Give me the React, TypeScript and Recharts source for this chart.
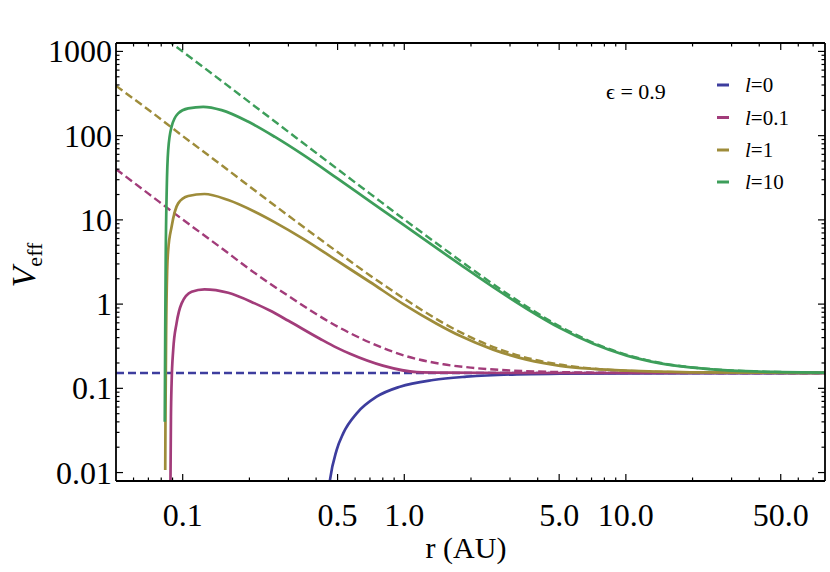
import React from 'react';
import { LineChart, Line, XAxis, YAxis } from 'recharts';

const FONT = '"Liberation Serif", "Times New Roman", serif';

const seriesLabels = ['0', '0.1', '1', '10'];
const seriesColors = ['#3d3d9e', '#a23c7a', '#9e8c3a', '#3d9e5a'];
const epsilonLabel = 'ϵ = 0.9';

// Solid curves V_eff(r): [r (AU), V]
const solidL0: number[][] = [
  [0.455, 0.006], [0.462, 0.0082], [0.495, 0.0185], [0.53, 0.0292], [0.61, 0.0505],
  [0.75, 0.0795], [0.956, 0.1045], [1.35, 0.1256], [1.91, 0.1374], [3.22, 0.1467],
  [5.04, 0.149], [10, 0.1505], [30, 0.1515], [79.2, 0.152],
];
const solidL01: number[][] = [
  [0.088, 0.006], [0.0885, 0.046], [0.0891, 0.115], [0.0906, 0.285], [0.0938, 0.59],
  [0.0989, 1.02], [0.1097, 1.4], [0.1254, 1.5], [0.1605, 1.365], [0.2115, 1.02],
  [0.2474, 0.839], [0.3, 0.634], [0.416, 0.388], [0.495, 0.304], [0.569, 0.257],
  [0.8, 0.186], [1.14, 0.156], [1.6, 0.1535], [3, 0.152], [79.2, 0.152],
];
const solidL1: number[][] = [
  [0.0834, 0.0107], [0.0836, 0.042], [0.0842, 0.49], [0.0851, 2.54], [0.086, 4.36],
  [0.0891, 8.3], [0.0954, 15.7], [0.1059, 19.2], [0.1254, 20.3], [0.1605, 17.2],
  [0.2115, 12.5], [0.2608, 9.35], [0.35, 5.95], [0.495, 3.3], [0.7, 1.83],
  [0.99, 1.0], [1.4, 0.585], [1.784, 0.42], [2.52, 0.288], [3.57, 0.219],
  [5.05, 0.185], [7.13, 0.17], [10.1, 0.162], [19.5, 0.155], [40, 0.1532], [79.2, 0.1524],
];
const solidL10: number[][] = [
  [0.083, 0.04], [0.0834, 0.49], [0.0838, 3.3], [0.0847, 22.6], [0.086, 67.5],
  [0.0891, 128], [0.0954, 184], [0.1059, 211], [0.1238, 220], [0.1498, 201],
  [0.197, 147], [0.2608, 96.5], [0.35, 59], [0.495, 31.5], [0.7, 16.6],
  [0.99, 8.77], [1.4, 4.61], [1.784, 2.96], [2.52, 1.59], [3.57, 0.881],
  [5.05, 0.519], [7.13, 0.338], [10.1, 0.2445], [14.3, 0.198], [19.5, 0.177],
  [30, 0.1623], [50, 0.1559], [79.2, 0.1536],
];

// Dashed curves
const dashedL0: number[][] = [[0.05, 0.152], [1, 0.152], [79.2, 0.152]];
const dashedL01: number[][] = [
  [0.05, 40], [0.07, 20.5], [0.1, 10.1], [0.15, 4.6], [0.2, 2.6], [0.3, 1.25],
  [0.5, 0.54], [0.7, 0.35], [1, 0.245], [1.5, 0.193], [2, 0.176], [3, 0.163],
  [5, 0.156], [10, 0.153], [79.2, 0.152],
];
const dashedL1: number[][] = [
  [0.05, 390], [0.07, 203], [0.1, 99], [0.15, 44.5], [0.2, 25], [0.3, 11.2],
  [0.5, 4.15], [0.7, 2.19], [1, 1.16], [1.5, 0.596], [2, 0.402], [3, 0.263],
  [5, 0.192], [7, 0.172], [10, 0.162], [20, 0.1545], [79.2, 0.152],
];
const dashedL10: number[][] = [
  [0.085, 1380], [0.1, 995], [0.15, 445], [0.2, 250], [0.3, 111], [0.5, 40],
  [0.7, 20.5], [1, 10.1], [1.5, 4.6], [2, 2.65], [3, 1.26], [5, 0.55],
  [7, 0.355], [10, 0.252], [15, 0.196], [20, 0.177], [30, 0.163], [50, 0.156],
  [79.2, 0.1536],
];

const xMajorTicks = [0.1, 0.5, 1, 5, 10, 50];
const xTickLabels = ['0.1', '0.5', '1.0', '5.0', '10.0', '50.0'];
const xMinorTicks = [0.06, 0.07, 0.08, 0.09, 0.2, 0.3, 0.4, 0.6, 0.7, 0.8, 0.9, 2, 3, 4, 6, 7, 8, 9, 20, 30, 40, 60, 70];
const yMajorTicks = [0.01, 0.1, 1, 10, 100, 1000];
const yTickLabels = ['0.01', '0.1', '1', '10', '100', '1000'];
const yMinorTicks = [
  0.02, 0.03, 0.04, 0.05, 0.06, 0.07, 0.08, 0.09,
  0.2, 0.3, 0.4, 0.5, 0.6, 0.7, 0.8, 0.9,
  2, 3, 4, 5, 6, 7, 8, 9,
  20, 30, 40, 50, 60, 70, 80, 90,
  200, 300, 400, 500, 600, 700, 800, 900,
];

const X_DOMAIN: [number, number] = [0.05, 79.2];
const Y_DOMAIN: [number, number] = [0.00794, 1259];

const toPts = (arr: number[][]) => arr.map(([r, v]) => ({ r, v }));
const solids = [solidL0, solidL01, solidL1, solidL10].map(toPts);
const dashes = [dashedL0, dashedL01, dashedL1, dashedL10].map(toPts);

const xTicks = [...xMajorTicks, ...xMinorTicks].sort((a, b) => a - b);
const yTicks = [...yMajorTicks, ...yMinorTicks].sort((a, b) => a - b);

const GAP = 10;
const axisStyle = { stroke: '#000', strokeWidth: 1.8 };
const TICK_FONT = 32;

function AxisTick(props: any) {
  const { x, y, payload, side, majors, labels } = props;
  const v = Number(payload.value);
  const idx = majors.findIndex((m: number) => Math.abs(m - v) <= m * 1e-6);
  const major = idx >= 0;
  const len = major ? 7 : 3.5;
  const sw = 1.2;
  if (side === 'bottom') {
    const y0 = y - GAP;
    return (
      <g>
        <line x1={x} x2={x} y1={y0} y2={y0 - len} stroke="#000" strokeWidth={sw} />
        {major && labels ? (
          <text x={x} y={y0 + 45} textAnchor="middle" fontFamily={FONT} fontSize={TICK_FONT} fill="#000">
            {labels[idx]}
          </text>
        ) : null}
      </g>
    );
  }
  if (side === 'top') {
    const y0 = y + GAP;
    return <line x1={x} x2={x} y1={y0} y2={y0 + len} stroke="#000" strokeWidth={sw} />;
  }
  if (side === 'left') {
    const x0 = x + GAP;
    return (
      <g>
        <line x1={x0} x2={x0 + len} y1={y} y2={y} stroke="#000" strokeWidth={sw} />
        {major && labels ? (
          <text x={x0 - 4} y={y + 11} textAnchor="end" fontFamily={FONT} fontSize={TICK_FONT} fill="#000">
            {labels[idx]}
          </text>
        ) : null}
      </g>
    );
  }
  const x0 = x - GAP;
  return <line x1={x0} x2={x0 - len} y1={y} y2={y} stroke="#000" strokeWidth={sw} />;
}

export default function App() {
  const legendRowY = [85, 117.5, 150, 182];
  return (
    <div style={{ position: 'absolute', left: 0, top: 0, width: 830, height: 572, background: '#fff' }}>
      <LineChart width={830} height={572} margin={{ top: 42, right: 4, bottom: 31, left: 16 }}>
        <XAxis
          xAxisId="b" type="number" dataKey="r" scale="log" domain={X_DOMAIN} allowDataOverflow
          ticks={xTicks} interval={0} height={60} tickSize={0} tickMargin={GAP} tickLine={false}
          axisLine={axisStyle}
          tick={(p: any) => <AxisTick {...p} side="bottom" majors={xMajorTicks} labels={xTickLabels} />}
        />
        <XAxis
          xAxisId="t" orientation="top" type="number" dataKey="r" scale="log" domain={X_DOMAIN} allowDataOverflow
          ticks={xTicks} interval={0} height={1} tickSize={0} tickMargin={GAP} tickLine={false}
          axisLine={axisStyle}
          tick={(p: any) => <AxisTick {...p} side="top" majors={xMajorTicks} />}
        />
        <YAxis
          yAxisId="l" type="number" dataKey="v" scale="log" domain={Y_DOMAIN} allowDataOverflow
          ticks={yTicks} interval={0} width={100} tickSize={0} tickMargin={GAP} tickLine={false}
          axisLine={axisStyle}
          tick={(p: any) => <AxisTick {...p} side="left" majors={yMajorTicks} labels={yTickLabels} />}
        />
        <YAxis
          yAxisId="r" orientation="right" type="number" dataKey="v" scale="log" domain={Y_DOMAIN} allowDataOverflow
          ticks={yTicks} interval={0} width={1} tickSize={0} tickMargin={GAP} tickLine={false}
          axisLine={axisStyle}
          tick={(p: any) => <AxisTick {...p} side="right" majors={yMajorTicks} />}
        />
        {dashes.map((d, i) => (
          <Line
            key={'d' + i} xAxisId="b" yAxisId="l" data={d} dataKey="v" type="monotone"
            stroke={seriesColors[i]} strokeWidth={2.4} strokeDasharray="8 4"
            dot={false} activeDot={false} isAnimationActive={false}
          />
        ))}
        {solids.map((d, i) => (
          <Line
            key={'s' + i} xAxisId="b" yAxisId="l" data={d} dataKey="v" type="monotone"
            stroke={seriesColors[i]} strokeWidth={2.7}
            dot={false} activeDot={false} isAnimationActive={false}
          />
        ))}
      </LineChart>
      <svg width={830} height={572} style={{ position: 'absolute', left: 0, top: 0, pointerEvents: 'none' }}>
        <text x={466} y={558} textAnchor="middle" fontFamily={FONT} fontSize={30} fill="#000">r (AU)</text>
        <text x={35} y={265} transform="rotate(-90 35 265)" textAnchor="middle" fontFamily={FONT} fontSize={34} fill="#000">
          <tspan fontStyle="italic">V</tspan>
          <tspan fontSize={22} dy={7}>eff</tspan>
        </text>
        <text x={606} y={99} fontFamily={FONT} fontSize={22} fill="#000">{epsilonLabel}</text>
        {seriesLabels.map((lab, i) => (
          <g key={lab}>
            <line x1={717} x2={729} y1={legendRowY[i]} y2={legendRowY[i]} stroke={seriesColors[i]} strokeWidth={3} />
            <text x={745} y={legendRowY[i] + 7} fontFamily={FONT} fontSize={21} fill="#000">
              <tspan fontStyle="italic">l</tspan>={lab}
            </text>
          </g>
        ))}
      </svg>
    </div>
  );
}
